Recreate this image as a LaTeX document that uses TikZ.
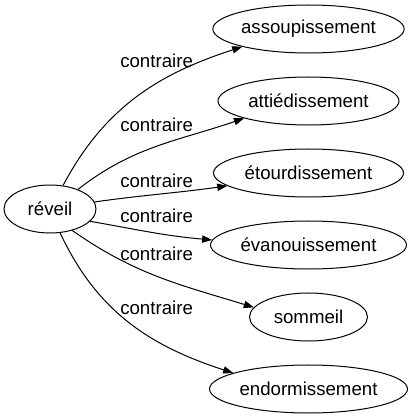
\documentclass[tikz,border=0pt]{standalone}
\usepackage{fontspec}
\setmainfont{Liberation Sans}
\usetikzlibrary{arrows.meta,shapes.geometric}

\tikzset{
	mot/.style={draw, ellipse, inner sep=0pt, minimum height=36pt, line width=0.75pt, font=\fontsize{14pt}{16pt}\selectfont},
	lien/.style={-{Triangle[length=7.5pt,width=5.5pt]}, line width=0.75pt},
	relation/.style={anchor=base west, inner sep=0pt, font=\fontsize{14pt}{16pt}\selectfont}
}

\begin{document}
\begin{tikzpicture}[x=0.75pt, y=0.75pt]
		%%%%% START %%%%%
		
		\useasboundingbox (0, 0) rectangle (413, 419);
		
		\node[mot, minimum width=69pt] (reveil) at (50, 210) {réveil};
		
		\node[mot, minimum width=143.5pt] (assou) at (308.5, 390) {assoupissement};
		\node[mot, minimum width=135.75pt] (attie) at (308.5, 318) {attiédissement};
		\node[mot, minimum width=142.5pt] (etour) at (308.5, 246) {étourdissement};
		\node[mot, minimum width=147pt] (evan) at (308.5, 174) {évanouissement};
		\node[mot, minimum width=88.5pt] (somm) at (308.5, 102) {sommeil};
		\node[mot, minimum width=148.5pt] (endo) at (308.5, 30) {endormissement};
		
		\draw[lien] (reveil.61) to[out=62, in=198] (assou.195);
		\draw[lien] (reveil.35) to[out=38, in=199] (attie.195);
		\draw[lien] (reveil.9) to[out=8, in=188] (etour.189);
		\draw[lien] (reveil.-17) to[out=-10, in=175] (evan.177);
		\draw[lien] (reveil.-44) to[out=-35, in=163] (somm.170);
		\draw[lien] (reveil.-67) to[out=-65, in=162] (endo.168);
		
		\node[relation] (c1) at (120, 352) {contraire};
		\node[relation] (c2) at (120, 287) {contraire};
		\node[relation] (c3) at (120, 232) {contraire};
		\node[relation] (c4) at (120, 196) {contraire};
		\node[relation] (c5) at (120, 159) {contraire};
		\node[relation] (c6) at (120, 104) {contraire};
		
		%%%%% END %%%%%
\end{tikzpicture}
\end{document}
